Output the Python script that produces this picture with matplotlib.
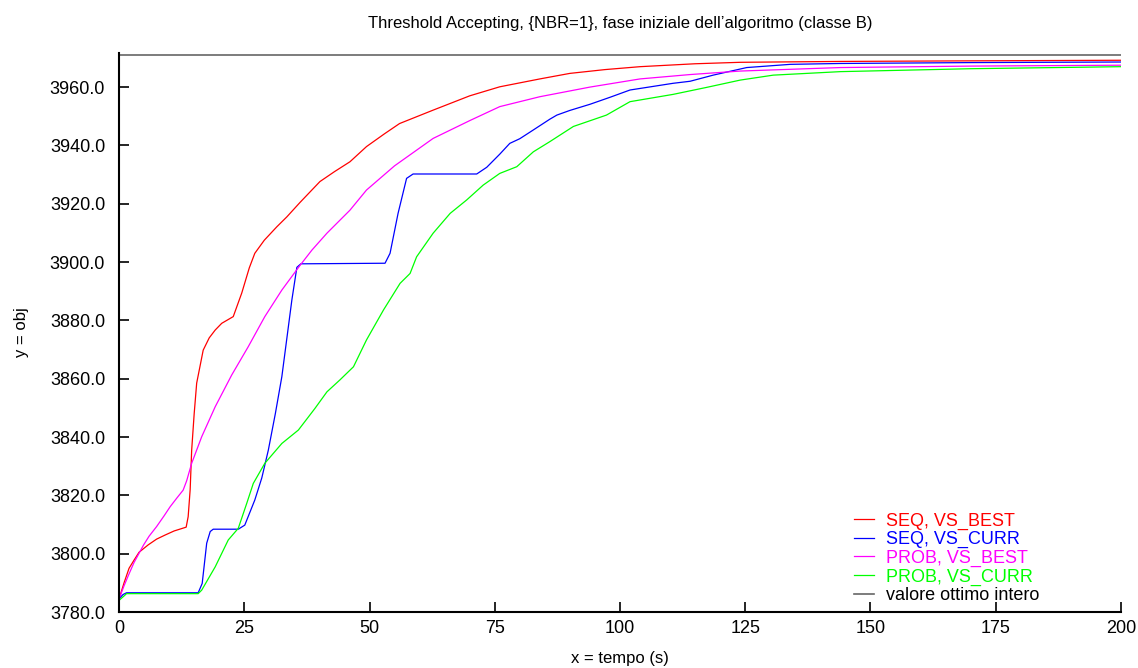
import matplotlib
matplotlib.use('Agg')
import matplotlib.pyplot as plt
from matplotlib.ticker import FormatStrFormatter

plt.rcParams['font.family'] = ['Liberation Sans', 'DejaVu Sans']

# SEQ, VS_BEST
x_seq_best = [0, 1, 2, 3, 4, 5.8, 7.5, 9.2, 11, 13.4, 13.8, 14.2, 14.5, 15, 15.5,
              16.8, 18, 19.2, 20.5, 22.8, 24.5, 26, 27.1, 29, 31.5, 33.5, 36.1,
              40.1, 43, 46.1, 49.4, 53, 56, 62.7, 70, 76, 84, 90, 97, 104, 115,
              124, 144, 170, 200]
y_seq_best = [3784.5, 3790, 3795, 3797.8, 3800.5, 3803, 3805, 3806.4, 3807.8,
              3809.1, 3812.7, 3822, 3835.5, 3848, 3858.5, 3869.8, 3874, 3876.7,
              3879, 3881.3, 3889.4, 3898, 3903, 3907.5, 3912.1, 3915.5, 3920.4,
              3927.6, 3931, 3934.4, 3939.6, 3944, 3947.5, 3952.1, 3957, 3960.1,
              3962.8, 3964.7, 3966, 3967, 3968, 3968.5, 3968.8, 3969, 3969.2]

# SEQ, VS_CURR
x_seq_curr = [0, 0.8, 1.5, 15.8, 16.6, 17.5, 18.2, 18.8, 23.8, 25.1, 27.1, 28.5,
              29.8, 31.2, 32.5, 34.5, 35.5, 36.3, 53.1, 54.1, 55.7, 57.4, 58.7,
              71.4, 73.4, 76, 78, 80, 82.7, 86, 87.4, 90, 94, 98, 102, 110.6, 114,
              118.6, 125.3, 134, 144, 170, 200]
y_seq_curr = [3784.5, 3786, 3786.6, 3786.6, 3789.8, 3803.6, 3807.6, 3808.4,
              3808.4, 3809.8, 3818.4, 3826, 3835.5, 3848, 3860.7, 3887, 3898.2,
              3899.4, 3899.6, 3903, 3916.7, 3928.7, 3930.2, 3930.2, 3932.5, 3937,
              3940.7, 3942.3, 3945.3, 3949, 3950.4, 3952, 3954.1, 3956.5, 3959,
              3961.3, 3962, 3964.1, 3966.7, 3967.8, 3968.1, 3968.4, 3968.6]

# PROB, VS_BEST
x_prob_best = [0, 1, 1.9, 3, 4.9, 6, 7.5, 9, 10.2, 11.5, 12.8, 13.5, 14.5, 16.5,
               19.2, 22.5, 25.8, 29.1, 32.5, 36.1, 38.5, 41.5, 46.1, 49.4, 55,
               62.7, 70, 76, 84, 94, 104, 114, 124, 144, 170, 200]
y_prob_best = [3784.5, 3789, 3792.7, 3797, 3803, 3806, 3809.3, 3813, 3816.1,
               3819, 3821.8, 3825, 3831, 3840.1, 3850.4, 3861.3, 3871, 3881.3,
               3890.4, 3898.8, 3904.1, 3909.9, 3917.8, 3924.7, 3933, 3942.4,
               3948.5, 3953.3, 3956.7, 3960, 3962.8, 3964.3, 3965.5, 3966.7,
               3967.2, 3967.5]

# PROB, VS_CURR
x_prob_curr = [0, 0.8, 1.5, 15.8, 16.5, 19.2, 21.8, 23.8, 25.5, 26.8, 29.1, 32.5,
               35.8, 39.1, 41.5, 44.1, 46.8, 49.4, 52.8, 56.1, 58.1, 59.4, 62.7,
               66.1, 69.4, 72.7, 76, 79.4, 82.7, 86, 90.7, 97.3, 102, 110.6, 117.3,
               124, 130.6, 144, 170, 200]
y_prob_curr = [3784, 3785.2, 3786.3, 3786.3, 3787.5, 3795.5, 3804.7, 3808.7,
               3817.3, 3824.1, 3831, 3837.8, 3842.4, 3849.8, 3855.5, 3859.6,
               3864.1, 3873.3, 3883.6, 3892.7, 3896.1, 3901.8, 3909.9, 3916.7,
               3921.3, 3926.4, 3930.4, 3932.7, 3937.8, 3941.3, 3946.5, 3950.4,
               3955, 3957.5, 3959.9, 3962.4, 3964.1, 3965.3, 3966.3, 3967]

ottimo = 3971
x_ticks = [0, 25, 50, 75, 100, 125, 150, 175, 200]
y_ticks = [3780, 3800, 3820, 3840, 3860, 3880, 3900, 3920, 3940, 3960]

fig = plt.figure(figsize=(11.38, 6.68), dpi=100)
ax = fig.add_axes([0.1046, 0.0838, 0.8804, 0.8369])

ax.plot(x_seq_best, y_seq_best, color='#ff0000', lw=0.9, label='SEQ, VS_BEST')
ax.plot(x_seq_curr, y_seq_curr, color='#0000ff', lw=0.9, label='SEQ, VS_CURR')
ax.plot(x_prob_best, y_prob_best, color='#ff00ff', lw=0.9, label='PROB, VS_BEST')
ax.plot(x_prob_curr, y_prob_curr, color='#00ff00', lw=0.9, label='PROB, VS_CURR')
ax.axhline(ottimo, color='#000000', lw=1.2, alpha=0.6, label='valore ottimo intero')

ax.set_xlim(0, 200)
ax.set_ylim(3780, 3971.7)
ax.set_xticks(x_ticks)
ax.set_yticks(y_ticks)
ax.yaxis.set_major_formatter(FormatStrFormatter('%.1f'))

for s in ['top', 'right']:
    ax.spines[s].set_visible(False)
for s in ['left', 'bottom']:
    ax.spines[s].set_linewidth(1.5)
ax.tick_params(direction='in', length=7, width=1.2, labelsize=13)
ax.tick_params(axis='y', pad=10)
ax.tick_params(axis='x', pad=6)

ax.set_title("Threshold Accepting, {NBR=1}, fase iniziale dell\u2019algoritmo (classe B)",
             fontsize=12, pad=18)
ax.set_xlabel('x = tempo (s)', fontsize=12, labelpad=10)
ax.set_ylabel('y = obj', fontsize=12, labelpad=15)

leg = ax.legend(loc='lower right', bbox_to_anchor=(0.929, -0.005), frameon=False,
                fontsize=13, handlelength=1.1, handletextpad=0.65,
                labelspacing=0.08, borderaxespad=0.2)
for txt, line in zip(leg.get_texts(), leg.get_lines()):
    txt.set_color(line.get_color())
leg.get_texts()[-1].set_color('black')

plt.savefig('out.png', dpi=100)
